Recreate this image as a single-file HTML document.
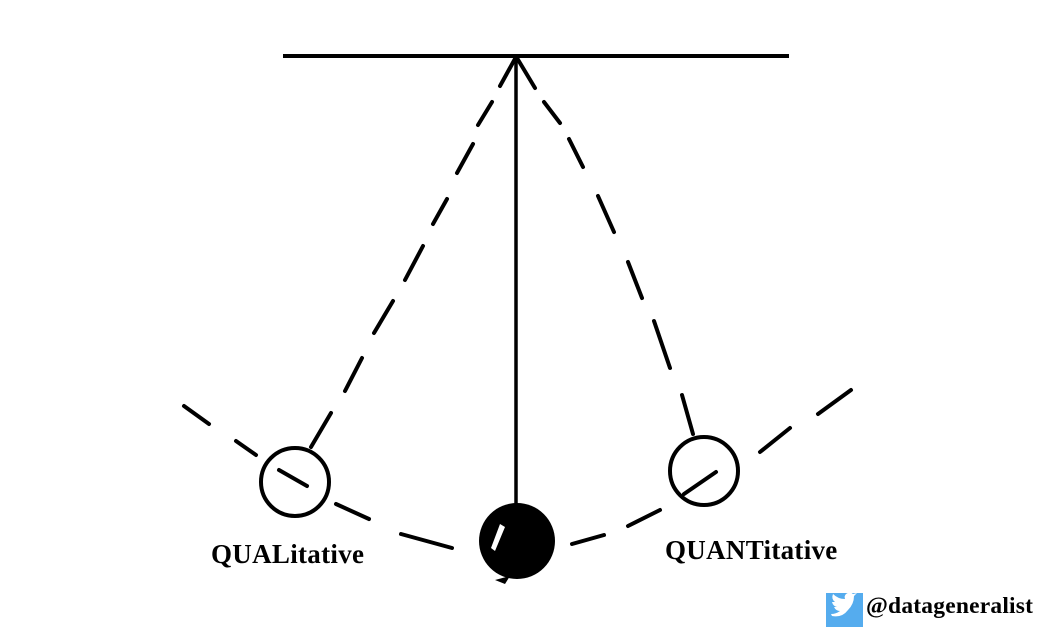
<!DOCTYPE html>
<html><head><style>
body{margin:0;background:#fff;width:1043px;height:630px;overflow:hidden;position:relative}
.t{position:absolute;font-family:"Liberation Serif",serif;font-weight:bold;color:#000;white-space:nowrap}
</style></head><body>
<svg width="1043" height="630" style="position:absolute;left:0;top:0">
<g stroke="#000" stroke-linecap="round" fill="none" stroke-width="4">
<line x1="283" y1="56" x2="789" y2="56" stroke-linecap="butt"/>
<line x1="516" y1="57" x2="516" y2="510" stroke-width="3.5"/>
<line x1="516" y1="57" x2="500" y2="86"/>
<line x1="492" y1="102" x2="478" y2="125"/>
<line x1="473" y1="144" x2="457" y2="173"/>
<line x1="447" y1="199" x2="433" y2="224"/>
<line x1="423" y1="246" x2="405" y2="280"/>
<line x1="393" y1="301" x2="374" y2="333"/>
<line x1="362" y1="358" x2="345" y2="391"/>
<line x1="331" y1="413" x2="311" y2="447"/>
<line x1="517" y1="58" x2="535" y2="88"/>
<line x1="544" y1="102" x2="560" y2="123"/>
<line x1="569" y1="139" x2="583" y2="167"/>
<line x1="598" y1="196" x2="614" y2="232"/>
<line x1="628" y1="262" x2="642" y2="298"/>
<line x1="654" y1="321" x2="670" y2="368"/>
<line x1="682" y1="395" x2="693" y2="434"/>
<line x1="184" y1="406" x2="209" y2="424"/>
<line x1="236" y1="441" x2="256" y2="455"/>
<line x1="279" y1="470" x2="307" y2="486"/>
<line x1="336" y1="504" x2="369" y2="519"/>
<line x1="401" y1="534" x2="452" y2="548"/>
<line x1="572" y1="544" x2="604" y2="535"/>
<line x1="628" y1="526" x2="660" y2="510"/>
<line x1="684" y1="494" x2="716" y2="472"/>
<line x1="760" y1="452" x2="790" y2="428"/>
<line x1="818" y1="414" x2="851" y2="390"/>
<circle cx="295" cy="482" r="34"/>
<circle cx="704" cy="471" r="34"/>
</g>
<circle cx="517" cy="541" r="38" fill="#000"/>
<path d="M495 580 L510 576 L505 584Z" fill="#000"/>
<path d="M491 548 L500 524 L505 527 L495 551Z" fill="#fff"/>
<rect x="826" y="593" width="37" height="34" fill="#55acee"/>
<path d="M832 616 q10 2 16 -6 q6 -6 6 -14 l3 -3 -4 1 q-3 -3 -7 0 q-2 2 -1 5 q-7 0 -12 -5 q-2 5 2 8 l-3 0 q1 4 5 5 l-3 0 q2 4 6 4 q-4 3 -9 3z" fill="#fff"/>
</svg>
<div class="t" style="left:211px;top:539px;font-size:27px;letter-spacing:0.3px">QUALitative</div>
<div class="t" style="left:665px;top:535px;font-size:27px;letter-spacing:0.3px">QUANTitative</div>
<div class="t" style="left:866px;top:593px;font-size:23.5px;letter-spacing:0.2px">@datageneralist</div>
</body></html>
